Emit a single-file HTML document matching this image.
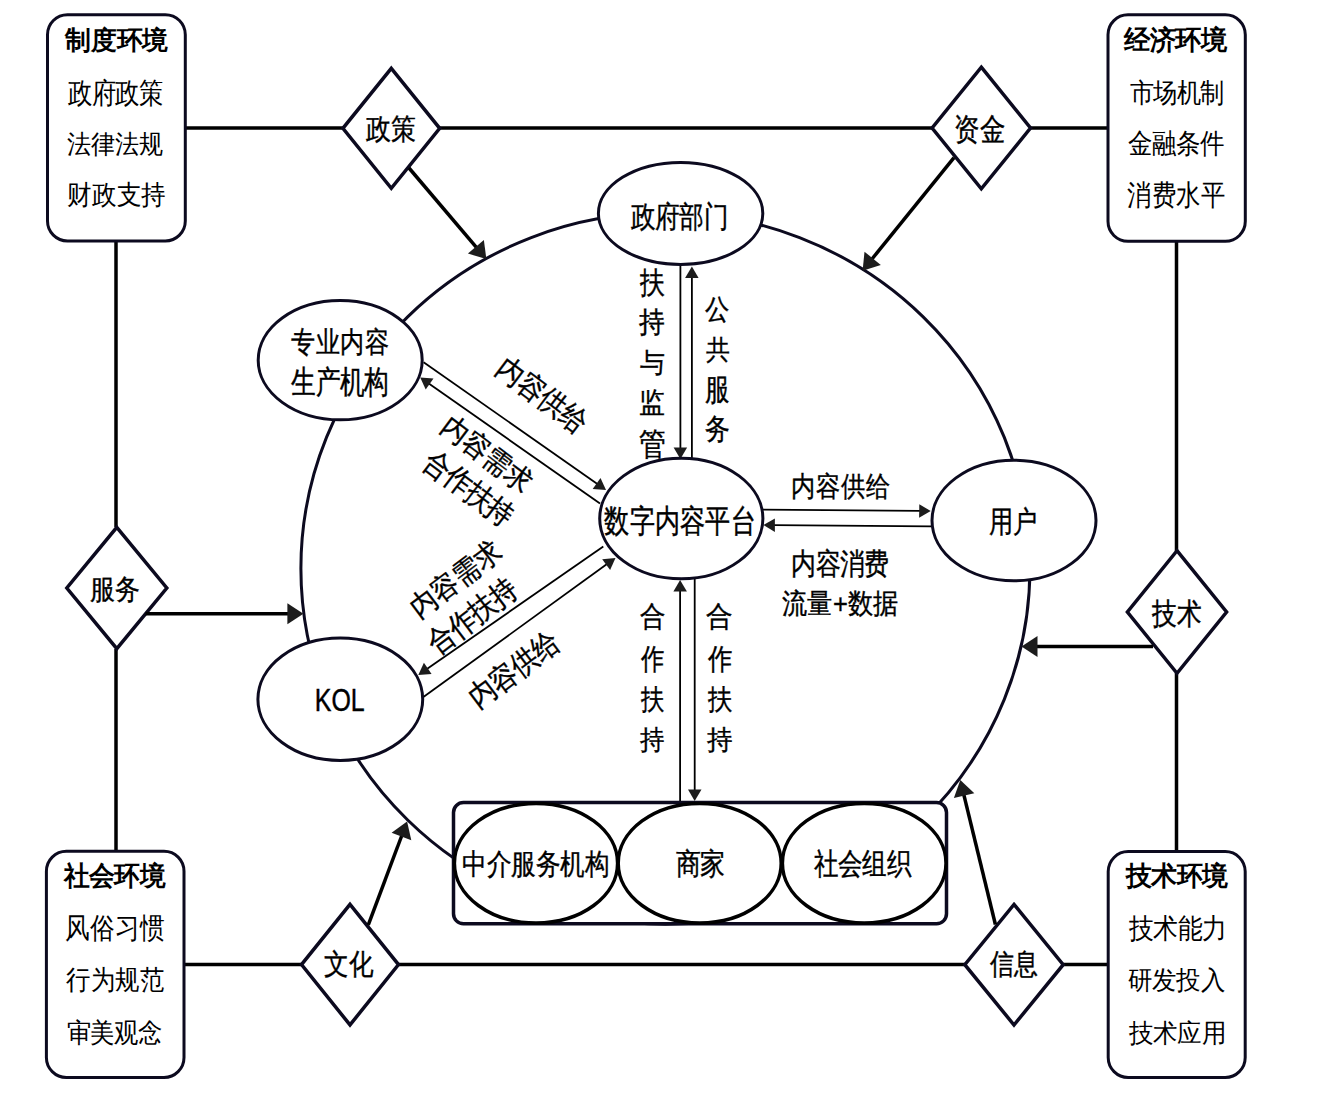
<!DOCTYPE html>
<html><head><meta charset="utf-8"><style>
html,body{margin:0;padding:0;background:#fff;width:1318px;height:1115px;overflow:hidden}
svg{display:block}
text{fill:#000;font-size:26px}
.s{font-family:"Liberation Sans",sans-serif;stroke:#000;stroke-width:0.35px}
.r{font-family:"Liberation Serif",serif}
.h{font-family:"Liberation Serif",serif;font-weight:bold}
</style></head><body>
<svg width="1318" height="1115" viewBox="0 0 1318 1115">
<line x1="185.0" y1="128.0" x2="343.0" y2="128.0" stroke="#000" stroke-width="3.5"/>
<line x1="440.0" y1="128.0" x2="932.0" y2="128.0" stroke="#000" stroke-width="3.5"/>
<line x1="1030.0" y1="128.0" x2="1108.0" y2="128.0" stroke="#000" stroke-width="3.5"/>
<line x1="184.0" y1="964.6" x2="302.0" y2="964.6" stroke="#000" stroke-width="3.5"/>
<line x1="398.0" y1="964.6" x2="965.0" y2="964.6" stroke="#000" stroke-width="3.5"/>
<line x1="1063.0" y1="964.6" x2="1108.0" y2="964.6" stroke="#000" stroke-width="3.5"/>
<line x1="116.0" y1="241.0" x2="116.0" y2="527.0" stroke="#000" stroke-width="3.5"/>
<line x1="116.0" y1="649.0" x2="116.0" y2="851.0" stroke="#000" stroke-width="3.5"/>
<line x1="1176.5" y1="241.0" x2="1176.5" y2="551.0" stroke="#000" stroke-width="3.5"/>
<line x1="1176.5" y1="673.0" x2="1176.5" y2="851.6" stroke="#000" stroke-width="3.5"/>
<ellipse cx="665.4" cy="568.4" rx="364.5" ry="355.8" fill="none" stroke="#0c0a1f" stroke-width="3"/>
<rect x="47.5" y="14.7" width="137.8" height="226.3" rx="20" ry="20" fill="#fff" stroke="#0c0a1f" stroke-width="3"/>
<rect x="1108" y="14.8" width="137.3" height="226.5" rx="20" ry="20" fill="#fff" stroke="#0c0a1f" stroke-width="3"/>
<rect x="46.4" y="851.3" width="137.6" height="226.2" rx="20" ry="20" fill="#fff" stroke="#0c0a1f" stroke-width="3"/>
<rect x="1108.2" y="851.6" width="137.0" height="225.9" rx="20" ry="20" fill="#fff" stroke="#0c0a1f" stroke-width="3"/>
<polygon points="391.3,68.30000000000001 439.7,128.3 391.3,188.3 342.90000000000003,128.3" fill="#fff" stroke="#0c0a1f" stroke-width="3.5"/>
<polygon points="981.3,67.2 1030.5,128 981.3,188.8 932.0999999999999,128" fill="#fff" stroke="#0c0a1f" stroke-width="3.5"/>
<polygon points="116.8,527.3 166.8,588 116.8,648.7 66.8,588" fill="#fff" stroke="#0c0a1f" stroke-width="3.5"/>
<polygon points="1177,550.7 1226.6,612 1177,673.3 1127.4,612" fill="#fff" stroke="#0c0a1f" stroke-width="3.5"/>
<polygon points="350,904.3000000000001 398.5,964.6 350,1024.9 301.5,964.6" fill="#fff" stroke="#0c0a1f" stroke-width="3.5"/>
<polygon points="1014,904.4000000000001 1063.2,964.7 1014,1025.0 964.8,964.7" fill="#fff" stroke="#0c0a1f" stroke-width="3.5"/>
<line x1="409.0" y1="168.0" x2="476.6" y2="247.6" stroke="#000" stroke-width="3.5"/>
<polygon points="486.3,259.0 467.9,253.6 483.9,240.0" fill="#1c1c1c"/>
<line x1="954.0" y1="157.6" x2="872.0" y2="259.0" stroke="#000" stroke-width="3.5"/>
<polygon points="862.6,270.7 864.5,251.7 880.8,264.9" fill="#1c1c1c"/>
<line x1="145.6" y1="613.8" x2="288.4" y2="613.8" stroke="#000" stroke-width="3.5"/>
<polygon points="303.4,613.8 287.4,624.3 287.4,603.3" fill="#1c1c1c"/>
<line x1="1153.0" y1="646.5" x2="1036.5" y2="646.5" stroke="#000" stroke-width="3.5"/>
<polygon points="1021.5,646.5 1037.5,636.0 1037.5,657.0" fill="#1c1c1c"/>
<line x1="368.3" y1="924.8" x2="401.8" y2="835.5" stroke="#000" stroke-width="3.5"/>
<polygon points="407.1,821.5 411.3,840.2 391.6,832.8" fill="#1c1c1c"/>
<line x1="995.4" y1="924.5" x2="963.8" y2="794.7" stroke="#000" stroke-width="3.5"/>
<polygon points="960.3,780.1 974.3,793.2 953.9,798.1" fill="#1c1c1c"/>
<line x1="680.4" y1="264.0" x2="680.4" y2="448.5" stroke="#000" stroke-width="1.8"/>
<polygon points="680.4,459.0 673.6,447.5 687.1,447.5" fill="#1c1c1c"/>
<line x1="691.9" y1="458.0" x2="691.9" y2="277.0" stroke="#000" stroke-width="1.8"/>
<polygon points="691.9,266.5 698.6,278.0 685.1,278.0" fill="#1c1c1c"/>
<line x1="763.0" y1="509.6" x2="920.2" y2="510.9" stroke="#000" stroke-width="1.8"/>
<polygon points="930.7,511.0 919.1,517.7 919.3,504.2" fill="#1c1c1c"/>
<line x1="931.0" y1="526.3" x2="773.9" y2="525.2" stroke="#000" stroke-width="1.8"/>
<polygon points="763.4,525.1 774.9,518.4 774.9,531.9" fill="#1c1c1c"/>
<line x1="694.7" y1="579.0" x2="694.7" y2="790.6" stroke="#000" stroke-width="1.8"/>
<polygon points="694.7,801.1 688.0,789.6 701.5,789.6" fill="#1c1c1c"/>
<line x1="680.1" y1="802.0" x2="680.1" y2="590.6" stroke="#000" stroke-width="1.8"/>
<polygon points="680.1,580.1 686.9,591.6 673.4,591.6" fill="#1c1c1c"/>
<line x1="423.6" y1="362.2" x2="597.4" y2="484.0" stroke="#000" stroke-width="1.8"/>
<polygon points="606.0,490.0 592.7,488.9 600.5,477.9" fill="#1c1c1c"/>
<line x1="600.0" y1="503.6" x2="428.8" y2="383.5" stroke="#000" stroke-width="1.8"/>
<polygon points="420.2,377.5 433.5,378.6 425.7,389.6" fill="#1c1c1c"/>
<line x1="603.3" y1="546.6" x2="426.9" y2="668.9" stroke="#000" stroke-width="1.8"/>
<polygon points="418.3,674.9 423.9,662.8 431.6,673.9" fill="#1c1c1c"/>
<line x1="422.7" y1="697.5" x2="607.0" y2="564.1" stroke="#000" stroke-width="1.8"/>
<polygon points="615.5,557.9 610.1,570.1 602.2,559.2" fill="#1c1c1c"/>
<ellipse cx="680.6" cy="213.4" rx="82.2" ry="51" fill="#fff" stroke="#0c0a1f" stroke-width="3"/>
<ellipse cx="340.2" cy="360.2" rx="82" ry="59.6" fill="#fff" stroke="#0c0a1f" stroke-width="3"/>
<ellipse cx="681.3" cy="518.5" rx="81.6" ry="60.3" fill="#fff" stroke="#0c0a1f" stroke-width="3"/>
<ellipse cx="1014" cy="520.5" rx="82" ry="60.3" fill="#fff" stroke="#0c0a1f" stroke-width="3"/>
<ellipse cx="340.3" cy="699.2" rx="82.4" ry="61.2" fill="#fff" stroke="#0c0a1f" stroke-width="3"/>
<rect x="453.5" y="802.5" width="493.0" height="121.3" rx="10" ry="10" fill="#fff" stroke="#0c0a1f" stroke-width="3.5"/>
<ellipse cx="536" cy="863.2" rx="81.6" ry="59.8" fill="#fff" stroke="#000" stroke-width="3.5"/>
<ellipse cx="699.7" cy="863.2" rx="81.5" ry="59.8" fill="#fff" stroke="#000" stroke-width="3.5"/>
<ellipse cx="864.2" cy="863.2" rx="81.8" ry="59.8" fill="#fff" stroke="#000" stroke-width="3.5"/>
<text class="h" transform="matrix(0.9923 0 0 1.0000 64.80 49.30)">制度环境</text>
<text class="r" transform="matrix(0.9223 0 0 1.1000 68.00 103.20)">政府政策</text>
<text class="r" transform="matrix(0.9373 0 0 1.0120 67.26 152.85)">法律法规</text>
<text class="r" transform="matrix(0.9441 0 0 1.0400 67.26 203.84)">财政支持</text>
<text class="h" transform="matrix(1.0000 0 0 1.0269 1124.00 49.19)">经济环境</text>
<text class="r" transform="matrix(0.9176 0 0 1.0231 1129.60 101.71)">市场机制</text>
<text class="r" transform="matrix(0.9245 0 0 1.0600 1127.98 152.76)">金融条件</text>
<text class="r" transform="matrix(0.9314 0 0 1.1083 1127.27 205.18)">消费水平</text>
<text class="h" transform="matrix(0.9760 0 0 1.0231 63.50 885.31)">社会环境</text>
<text class="r" transform="matrix(0.9441 0 0 1.1080 65.26 938.27)">风俗习惯</text>
<text class="r" transform="matrix(0.9333 0 0 1.0320 65.87 989.27)">行为规范</text>
<text class="r" transform="matrix(0.9265 0 0 1.0280 66.57 1042.42)">审美观念</text>
<text class="h" transform="matrix(0.9829 0 0 1.0231 1125.78 885.31)">技术环境</text>
<text class="r" transform="matrix(0.9430 0 0 1.0640 1128.90 937.74)">技术能力</text>
<text class="r" transform="matrix(0.9333 0 0 0.9923 1127.97 989.43)">研发投入</text>
<text class="r" transform="matrix(0.9297 0 0 0.9885 1128.90 1041.55)">技术应用</text>
<text class="s" transform="matrix(0.9627 0 0 1.1208 366.40 139.44)">政策</text>
<text class="s" transform="matrix(0.9878 0 0 1.2083 954.32 139.97)">资金</text>
<text class="s" transform="matrix(0.9700 0 0 1.0920 90.03 598.83)">服务</text>
<text class="s" transform="matrix(0.9608 0 0 1.1680 1152.00 624.33)">技术</text>
<text class="s" transform="matrix(0.9490 0 0 1.1208 324.35 974.24)">文化</text>
<text class="s" transform="matrix(0.9118 0 0 1.1040 990.40 974.08)">信息</text>
<text class="s" transform="matrix(0.9426 0 0 1.1480 630.90 226.66)">政府部门</text>
<text class="s" transform="matrix(0.9320 0 0 1.1231 291.40 351.51)">专业内容</text>
<text class="s" transform="matrix(0.9373 0 0 1.2167 291.40 392.85)">生产机构</text>
<text class="s" transform="matrix(0.9678 0 0 1.2360 604.33 531.89)">数字内容平台</text>
<text class="s" transform="matrix(0.9204 0 0 1.1440 989.18 532.37)">用户</text>
<text class="s" transform="matrix(0.9592 0 0 1.2333 314.78 711.30)">KOL</text>
<text class="s" transform="matrix(0.9471 0 0 1.1200 461.85 873.52)">中介服务机构</text>
<text class="s" transform="matrix(0.9500 0 0 1.1423 676.00 874.33)">商家</text>
<text class="s" transform="matrix(0.9369 0 0 1.1480 814.16 874.31)">社会组织</text>
<text class="s" transform="matrix(0.9480 0 0 1.1440 639.70 292.72)">扶</text>
<text class="s" transform="matrix(0.9875 0 0 1.1120 638.71 332.35)">持</text>
<text class="s" transform="matrix(0.9480 0 0 1.0240 639.70 372.10)">与</text>
<text class="s" transform="matrix(0.9875 0 0 1.0667 638.71 412.40)">监</text>
<text class="s" transform="matrix(1.0304 0 0 1.2292 638.67 455.31)">管</text>
<text class="s" transform="matrix(0.9458 0 0 1.0833 704.85 318.75)">公</text>
<text class="s" transform="matrix(0.9080 0 0 1.0240 705.80 359.30)">共</text>
<text class="s" transform="matrix(0.9458 0 0 1.2000 704.85 400.20)">服</text>
<text class="s" transform="matrix(0.9458 0 0 1.1080 704.85 438.87)">务</text>
<text class="s" transform="matrix(0.9783 0 0 1.0760 640.32 626.30)">合</text>
<text class="s" transform="matrix(1.0217 0 0 1.0760 706.48 626.30)">合</text>
<text class="s" transform="matrix(0.9000 0 0 1.1208 641.30 668.72)">作</text>
<text class="s" transform="matrix(0.9400 0 0 1.1208 707.50 668.72)">作</text>
<text class="s" transform="matrix(0.9000 0 0 1.0760 641.30 709.30)">扶</text>
<text class="s" transform="matrix(0.9400 0 0 1.0760 707.50 709.30)">扶</text>
<text class="s" transform="matrix(0.9375 0 0 1.0360 640.36 748.76)">持</text>
<text class="s" transform="matrix(0.9792 0 0 1.0360 706.52 748.76)">持</text>
<text class="s" transform="matrix(0.9465 0 0 1.0920 791.11 495.62)">内容供给</text>
<text class="s" transform="matrix(0.9465 0 0 1.1400 791.11 574.08)">内容消费</text>
<text class="s" transform="matrix(0.9821 0 0 1.0923 781.82 612.93)">流量+数据</text>
<text class="s" transform="translate(543.20 395.20) rotate(37.0) matrix(1.0099 0 0 1.1600 -53.02 11.02)">内容供给</text>
<text class="s" transform="translate(487.05 454.20) rotate(37.0) matrix(1.0099 0 0 1.1154 -53.02 10.04)">内容需求</text>
<text class="s" transform="translate(468.85 489.05) rotate(37.0) matrix(1.0000 0 0 1.1600 -52.00 9.86)">合作扶持</text>
<text class="s" transform="translate(455.55 579.20) rotate(-37.0) matrix(1.0099 0 0 1.1154 -53.02 10.04)">内容需求</text>
<text class="s" transform="translate(472.75 616.25) rotate(-37.0) matrix(1.0000 0 0 1.1600 -52.00 9.86)">合作扶持</text>
<text class="s" transform="translate(514.00 668.55) rotate(-37.0) matrix(1.0099 0 0 1.1600 -53.02 11.02)">内容供给</text>
</svg>
</body></html>
